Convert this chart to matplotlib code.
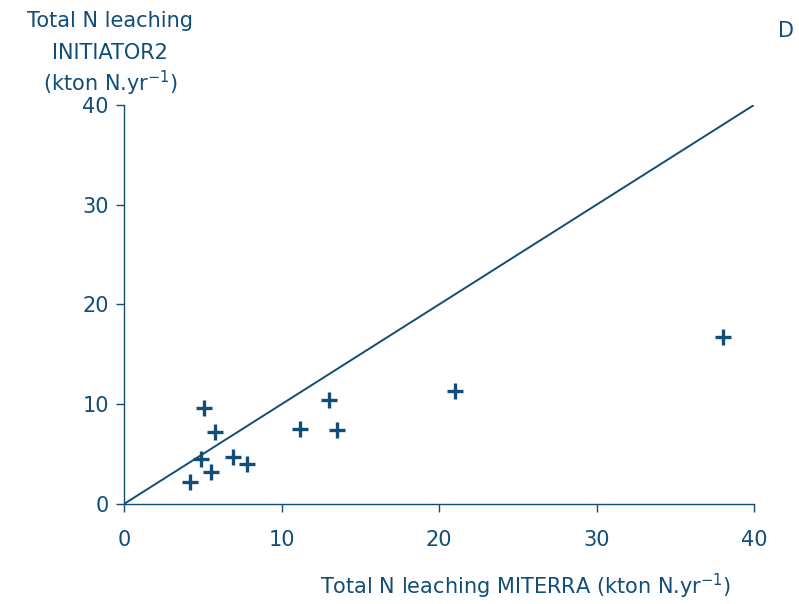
import matplotlib.pyplot as plt

plt.rcParams['font.family'] = ['DejaVu Sans']
plt.rcParams['mathtext.default'] = 'regular'

miterra = [4.2, 5.1, 4.9, 5.5, 5.8, 6.9, 7.8, 11.2, 13.0, 13.5, 21.0, 38.0]
initiator = [2.2, 9.6, 4.5, 3.2, 7.2, 4.7, 4.0, 7.5, 10.4, 7.4, 11.3, 16.7]
ticks = [0, 10, 20, 30, 40]

col = '#124d78'

fig = plt.figure(figsize=(7.99, 6.04), dpi=100)
ax = fig.add_axes([0.1552, 0.1656, 0.7885, 0.6606])

ax.plot([0, 40], [0, 40], color=col, lw=1.4)
ax.plot(miterra, initiator, ls='none', marker='+', ms=11, mew=2.4, color=col)

ax.set_xlim(0, 40)
ax.set_ylim(0, 40)
ax.set_xticks(ticks)
ax.set_yticks(ticks)
for s in ['top', 'right']:
    ax.spines[s].set_visible(False)
for s in ['left', 'bottom']:
    ax.spines[s].set_color(col)
    ax.spines[s].set_linewidth(1.0)
ax.tick_params(axis='both', colors=col, labelsize=15, length=6, width=1.0)
ax.tick_params(axis='x', pad=13)
ax.tick_params(axis='y', pad=5)

ylab = ['Total N leaching', 'INITIATOR2', '(kton N.yr$^{-1}$)']
for i, t in enumerate(ylab):
    fig.text(110 / 799, 1 - (27 + 32 * i) / 604, t, color=col,
             fontsize=15, ha='center', va='baseline')
fig.text(526 / 799, 1 - 594 / 604, 'Total N leaching MITERRA (kton N.yr$^{-1}$)', color=col,
         fontsize=15, ha='center', va='baseline')
fig.text(786 / 799, 1 - 37 / 604, 'D', color=col, fontsize=15, ha='center', va='baseline')

fig.savefig('out.png', dpi=100)
